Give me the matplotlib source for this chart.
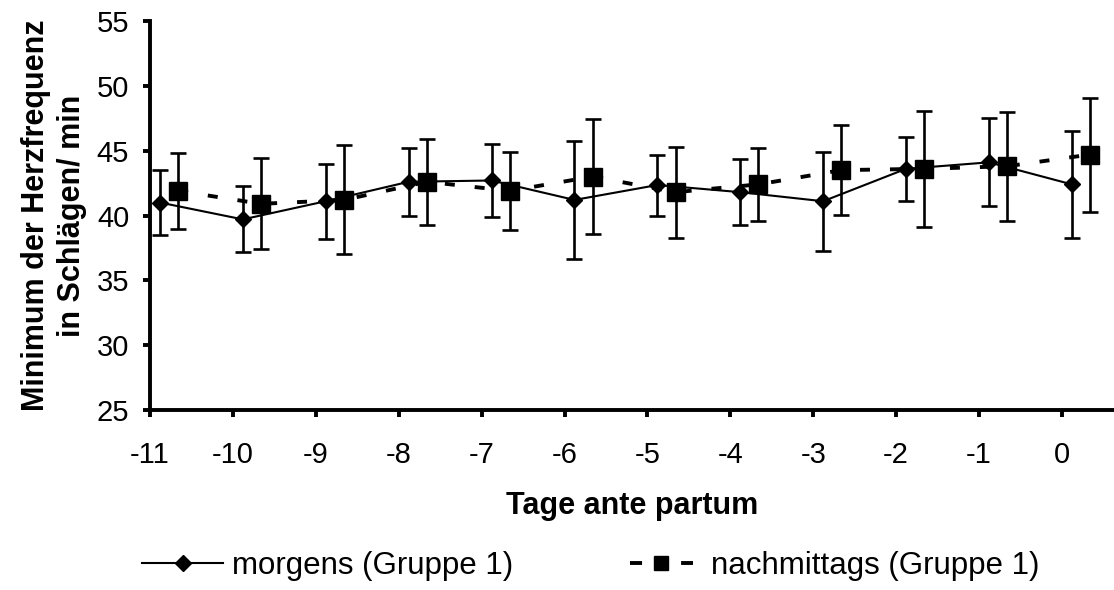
import matplotlib
matplotlib.use("Agg")
import matplotlib.pyplot as plt
from matplotlib.lines import Line2D
import numpy as np

plt.rcParams['font.family'] = ['Liberation Sans', 'DejaVu Sans']

# Tage ante partum
tage = [-11, -10, -9, -8, -7, -6, -5, -4, -3, -2, -1, 0]

# morgens (Gruppe 1): Mittelwert und Standardabweichung
morgens = [41.0, 39.7, 41.1, 42.6, 42.7, 41.2, 42.35, 41.8, 41.1, 43.6, 44.1, 42.4]
morgens_sd = [2.5, 2.55, 2.9, 2.6, 2.8, 4.55, 2.35, 2.55, 3.8, 2.45, 3.4, 4.15]

# nachmittags (Gruppe 1)
nachmittags = [41.9, 40.9, 41.2, 42.6, 41.9, 43.0, 41.8, 42.4, 43.5, 43.6, 43.8, 44.7]
nachmittags_sd = [2.95, 3.5, 4.2, 3.3, 3.0, 4.45, 3.5, 2.8, 3.45, 4.45, 4.2, 4.4]

W, H = 1114, 590
fig = plt.figure(figsize=(W / 100, H / 100), dpi=100)
ax = fig.add_axes([150 / W, (H - 410) / H, (W - 150) / W, (410 - 21) / H])

x = np.array(tage, dtype=float)
x_m = x + 0.12
x_n = x + 0.34

ax.errorbar(x_m, morgens, yerr=morgens_sd, fmt='none', ecolor='black',
            elinewidth=1.9, capsize=5.5, capthick=1.9, zorder=2)
ax.errorbar(x_n, nachmittags, yerr=nachmittags_sd, fmt='none', ecolor='black',
            elinewidth=1.9, capsize=5.5, capthick=1.9, zorder=2)

ax.plot(x_m, morgens, '-', color='black', lw=1.5, marker='D', ms=8.5, zorder=3)
ln, = ax.plot(x_n, nachmittags, '--', color='black', lw=2.8, marker='s', ms=13, zorder=4)
ln.set_dashes((2.57, 5.14))

ax.set_xlim(-11, -11 + (W - 150) / 82.9)
ax.set_ylim(25, 55)
ax.set_xticks(tage)
ax.set_xticklabels([str(t) for t in tage])
ax.set_yticks(range(25, 56, 5))

for s in ['top', 'right']:
    ax.spines[s].set_visible(False)
for s in ['left', 'bottom']:
    ax.spines[s].set_linewidth(2.8)
ax.tick_params(axis='both', direction='out', length=5, width=2.8, labelsize=21)
ax.tick_params(axis='y', pad=10)
ax.tick_params(axis='x', pad=17)

ax.set_ylabel('Minimum der Herzfrequenz\nin Schlägen/ min', fontsize=22,
              fontweight='bold', labelpad=7, linespacing=1.25)
fig.text(632 / W, 1 - 506 / H, 'Tage ante partum', ha='center', va='center',
         fontsize=22, fontweight='bold')

h1 = Line2D([], [], color='black', lw=1.5, marker='D', ms=8)
h2 = Line2D([], [], color='black', lw=2.8, ls='--', dashes=(3.1, 3.47), marker='s', ms=9.5)
fig.legend([h1], ['morgens (Gruppe 1)'], loc='center left',
           bbox_to_anchor=(142 / W, 1 - 566 / H), frameon=False, fontsize=22.5,
           borderpad=0, borderaxespad=0, handlelength=2.6, handletextpad=0.29)
fig.legend([h2], ['nachmittags (Gruppe 1)'], loc='center left',
           bbox_to_anchor=(630 / W, 1 - 566 / H), frameon=False, fontsize=22.5,
           borderpad=0, borderaxespad=0, handlelength=2.0, handletextpad=0.6)

fig.savefig('out.png', dpi=100)
